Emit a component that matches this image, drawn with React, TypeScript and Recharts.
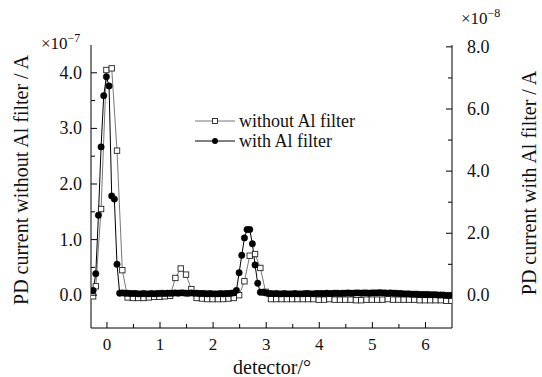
import React from 'react';
import { LineChart, Line, XAxis, YAxis, Legend } from 'recharts';

const FONT = '"Liberation Serif", "Times New Roman", serif';

const seriesNames = ['without Al filter', 'with Al filter'];

// detector angle (deg), PD current without filter (x1e-7 A)
const withoutX = [
  -0.26, -0.21, -0.11, -0.01, 0.09, 0.19, 0.29, 0.39, 0.49, 0.59, 0.69, 0.79, 0.89, 0.99, 1.09, 1.19,
  1.29, 1.39, 1.49, 1.59, 1.69, 1.79, 1.89, 1.99, 2.09, 2.19, 2.29, 2.39, 2.49, 2.59, 2.69, 2.79,
  2.89, 2.99, 3.09, 3.19, 3.29, 3.39, 3.49, 3.59, 3.69, 3.79, 3.89, 3.99, 4.09, 4.19, 4.29, 4.39,
  4.49, 4.59, 4.69, 4.79, 4.89, 4.99, 5.09, 5.19, 5.29, 5.39, 5.49, 5.59, 5.69, 5.79, 5.89, 5.99,
  6.09, 6.19, 6.29, 6.39, 6.49,
];
const withoutY = [
  -0.02, 0.16, 1.55, 4.05, 4.08, 2.6, 0.45, -0.04, -0.05, -0.05, -0.05, -0.04, -0.03, -0.03, -0.02, -0.01,
  0.31, 0.48, 0.37, 0.11, -0.05, -0.06, -0.07, -0.07, -0.07, -0.07, -0.06, -0.05, 0.0, 0.25, 0.71, 0.74,
  0.49, 0.06, -0.07, -0.07, -0.07, -0.07, -0.07, -0.07, -0.07, -0.07, -0.07, -0.08, -0.08, -0.07, -0.08, -0.08,
  -0.08, -0.08, -0.09, -0.09, -0.08, -0.08, -0.08, -0.08, -0.07, -0.08, -0.08, -0.08, -0.08, -0.08, -0.09, -0.09,
  -0.09, -0.09, -0.09, -0.1, -0.1,
];

// detector angle (deg), PD current with filter (x1e-8 A)
const withX = [
  -0.26, -0.21, -0.16, -0.11, -0.06, -0.01, 0.04, 0.09, 0.14, 0.19, 0.24, 0.29, 0.34, 0.39, 0.44, 0.49,
  0.54, 0.59, 0.64, 0.69, 0.74, 0.79, 0.84, 0.89, 0.94, 0.99, 1.04, 1.09, 1.14, 1.19, 1.24, 1.29,
  1.34, 1.39, 1.44, 1.49, 1.54, 1.59, 1.64, 1.69, 1.74, 1.79, 1.84, 1.89, 1.94, 1.99, 2.04, 2.09,
  2.14, 2.19, 2.24, 2.29, 2.34, 2.39, 2.44, 2.49, 2.54, 2.59, 2.64, 2.69, 2.74, 2.79, 2.84, 2.89,
  2.94, 2.99, 3.04, 3.09, 3.14, 3.19, 3.24, 3.29, 3.34, 3.39, 3.44, 3.49, 3.54, 3.59, 3.64, 3.69,
  3.74, 3.79, 3.84, 3.89, 3.94, 3.99, 4.04, 4.09, 4.14, 4.19, 4.24, 4.29, 4.34, 4.39, 4.44, 4.49,
  4.54, 4.59, 4.64, 4.69, 4.74, 4.79, 4.84, 4.89, 4.94, 4.99, 5.04, 5.09, 5.14, 5.19, 5.24, 5.29,
  5.34, 5.39, 5.44, 5.49, 5.54, 5.59, 5.64, 5.69, 5.74, 5.79, 5.84, 5.89, 5.94, 5.99, 6.04, 6.09,
  6.14, 6.19, 6.24, 6.29, 6.34, 6.39, 6.44, 6.49,
];
const withY = [
  0.16, 0.7, 2.58, 4.78, 6.43, 7.04, 6.74, 3.2, 3.1, 1.0, 0.07, 0.08, 0.07, 0.07, 0.06, 0.06,
  0.06, 0.05, 0.05, 0.06, 0.05, 0.05, 0.06, 0.05, 0.06, 0.06, 0.07, 0.06, 0.07, 0.07, 0.07, 0.08,
  0.07, 0.08, 0.08, 0.07, 0.07, 0.08, 0.07, 0.07, 0.06, 0.06, 0.06, 0.05, 0.06, 0.05, 0.05, 0.05,
  0.06, 0.05, 0.06, 0.06, 0.07, 0.08, 0.16, 0.73, 1.29, 1.85, 2.12, 2.12, 1.66, 0.98, 0.39, 0.1,
  0.1, 0.08, 0.06, 0.06, 0.05, 0.06, 0.05, 0.05, 0.06, 0.05, 0.05, 0.05, 0.06, 0.05, 0.05, 0.05,
  0.06, 0.06, 0.05, 0.05, 0.06, 0.06, 0.06, 0.06, 0.07, 0.06, 0.06, 0.07, 0.07, 0.06, 0.07, 0.07,
  0.08, 0.07, 0.07, 0.08, 0.08, 0.07, 0.08, 0.08, 0.07, 0.08, 0.08, 0.08, 0.09, 0.08, 0.08, 0.07,
  0.08, 0.07, 0.07, 0.06, 0.06, 0.05, 0.05, 0.05, 0.04, 0.04, 0.04, 0.03, 0.03, 0.03, 0.03, 0.02,
  0.02, 0.02, 0.01, 0.01, 0.01, 0.0, 0.0, 0.0,
];

const xTicks = [0, 0.5, 1, 1.5, 2, 2.5, 3, 3.5, 4, 4.5, 5, 5.5, 6];
const leftTicks = [0, 0.5, 1, 1.5, 2, 2.5, 3, 3.5, 4];
const rightTicks = [0, 1, 2, 3, 4, 5, 6, 7, 8];

const withoutData = withoutX.map((x, i) => ({ x, y: withoutY[i] }));
const withData = withX.map((x, i) => ({ x, y: withY[i] }));

const isMajor = (v: number, step: number) => Math.abs(v / step - Math.round(v / step)) < 1e-6;

const BottomTick = (props: any) => {
  const { x, y, payload } = props;
  const major = isMajor(payload.value, 1);
  return (
    <g>
      <line x1={x} x2={x} y1={y} y2={y - (major ? 6 : 4)} stroke="#000" />
      {major && (
        <text x={x} y={y + 22} textAnchor="middle" fontFamily={FONT} fontSize={17} fill="#111">
          {payload.value}
        </text>
      )}
    </g>
  );
};

const TopTick = (props: any) => {
  const { x, y, payload } = props;
  const major = isMajor(payload.value, 1);
  return <line x1={x} x2={x} y1={y} y2={y + (major ? 6 : 4)} stroke="#000" />;
};

const LeftTick = (props: any) => {
  const { x, y, payload } = props;
  const major = isMajor(payload.value, 1);
  return (
    <g>
      <line x1={x} x2={x + (major ? 6 : 4)} y1={y} y2={y} stroke="#000" />
      {major && (
        <text x={x - 9} y={y + 6} textAnchor="end" fontFamily={FONT} fontSize={18} fill="#111">
          {payload.value.toFixed(1)}
        </text>
      )}
    </g>
  );
};

const RightTick = (props: any) => {
  const { x, y, payload } = props;
  const major = isMajor(payload.value, 2);
  return (
    <g>
      <line x1={x} x2={x - (major ? 6 : 4)} y1={y} y2={y} stroke="#000" />
      {major && (
        <text x={x + 15} y={y + 6} textAnchor="start" fontFamily={FONT} fontSize={18} fill="#111">
          {payload.value.toFixed(1)}
        </text>
      )}
    </g>
  );
};

const SquareDot = (props: any) => {
  const { cx, cy, index } = props;
  return (
    <rect key={`sq-${index}`} x={cx - 2.7} y={cy - 2.7} width={5.4} height={5.4} fill="#fff" stroke="#222" strokeWidth={0.9} />
  );
};

const renderLegend = () => (
  <div style={{ fontFamily: FONT, fontSize: 18, color: '#111', lineHeight: '20px' }}>
    {seriesNames.map((name, i) => (
      <div key={name} style={{ display: 'flex', alignItems: 'center', height: 20 }}>
        <svg width={40} height={12}>
          <line x1={0} x2={40} y1={6} y2={6} stroke={i === 0 ? '#777' : '#000'} />
          {i === 0 ? (
            <rect x={17.5} y={3.5} width={5} height={5} fill="#fff" stroke="#222" strokeWidth={0.9} />
          ) : (
            <circle cx={20} cy={6} r={3} fill="#000" />
          )}
        </svg>
        <span style={{ marginLeft: 4 }}>{name}</span>
      </div>
    ))}
  </div>
);

const LeftTitle = () => (
  <g fontFamily={FONT} fill="#111">
    <text x={21} y={180} transform="rotate(-90 21 180)" textAnchor="middle" dominantBaseline="central" fontSize={20}>
      PD current without Al filter / A
    </text>
    <text x={41} y={49} fontSize={17}>
      ×10<tspan dy={-7} fontSize={12}>−7</tspan>
    </text>
  </g>
);

const RightTitle = () => (
  <g fontFamily={FONT} fill="#111">
    <text x={529} y={183} transform="rotate(-90 529 183)" textAnchor="middle" dominantBaseline="central" fontSize={20}>
      PD current with Al filter / A
    </text>
    <text x={461} y={24} fontSize={17}>
      ×10<tspan dy={-7} fontSize={12}>−8</tspan>
    </text>
  </g>
);

export default function App() {
  return (
    <div style={{ position: 'absolute', left: 0, top: 0, background: '#fff' }}>
      <LineChart width={542} height={377} margin={{ top: 45, right: 0, bottom: 0, left: 0 }}>
        <XAxis
          dataKey="x"
          type="number"
          domain={[-0.3, 6.5]}
          allowDataOverflow
          ticks={xTicks}
          interval={0}
          height={49}
          tickSize={0}
          tickMargin={0}
          tickLine={false}
          axisLine={{ stroke: '#000' }}
          tick={(p: any) => <BottomTick {...p} />}
          label={{
            content: () => (
              <text x={272} y={374} textAnchor="middle" fontFamily={FONT} fontSize={20} fill="#111">
                detector/°
              </text>
            ),
          }}
        />
        <XAxis
          xAxisId="top"
          orientation="top"
          type="number"
          domain={[-0.3, 6.5]}
          allowDataOverflow
          ticks={xTicks}
          interval={0}
          height={0}
          tickSize={0}
          tickMargin={0}
          tickLine={false}
          axisLine={{ stroke: '#000' }}
          tick={(p: any) => <TopTick {...p} />}
        />
        <YAxis
          yAxisId="left"
          type="number"
          domain={[-0.59, 4.5]}
          allowDataOverflow
          ticks={leftTicks}
          interval={0}
          width={91}
          tickSize={0}
          tickMargin={0}
          tickLine={false}
          axisLine={{ stroke: '#000' }}
          tick={(p: any) => <LeftTick {...p} />}
          label={{ content: () => <LeftTitle /> }}
        />
        <YAxis
          yAxisId="right"
          orientation="right"
          type="number"
          domain={[-1.05, 8.06]}
          allowDataOverflow
          ticks={rightTicks}
          interval={0}
          width={90}
          tickSize={0}
          tickMargin={0}
          tickLine={false}
          axisLine={{ stroke: '#000' }}
          tick={(p: any) => <RightTick {...p} />}
          label={{ content: () => <RightTitle /> }}
        />
        <Legend
          layout="vertical"
          align="center"
          verticalAlign="middle"
          wrapperStyle={{ left: 195, top: 111, width: 220 }}
          content={renderLegend}
        />
        <Line
          yAxisId="left"
          data={withoutData}
          dataKey="y"
          name={seriesNames[0]}
          stroke="#777"
          strokeWidth={1}
          dot={(p: any) => <SquareDot {...p} />}
          activeDot={false}
          isAnimationActive={false}
        />
        <Line
          yAxisId="right"
          data={withData}
          dataKey="y"
          name={seriesNames[1]}
          stroke="#000"
          strokeWidth={1}
          dot={{ r: 3.2, fill: '#000', stroke: '#000', strokeWidth: 0.5 }}
          activeDot={false}
          isAnimationActive={false}
        />
      </LineChart>
    </div>
  );
}
